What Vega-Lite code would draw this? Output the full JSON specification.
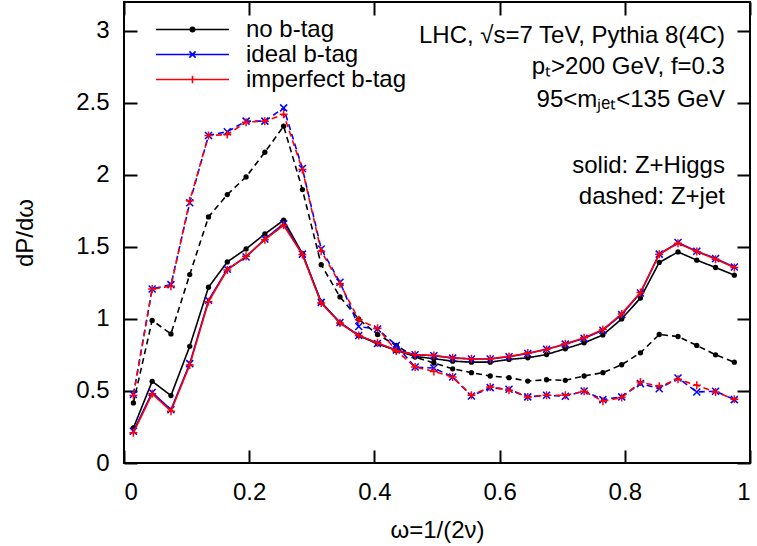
{
  "$schema": "https://vega.github.io/schema/vega-lite/v6.json",
  "width": 626,
  "height": 461,
  "autosize": {"type": "none"},
  "padding": {"left": 124, "top": 2, "right": 7, "bottom": 83},
  "background": "white",
  "config": {
    "view": {"stroke": "black", "strokeWidth": 2},
    "font": "Liberation Sans",
    "axis": {
      "domain": false, "grid": false, "tickSize": -13, "tickWidth": 2, "tickColor": "black",
      "labelFont": "Liberation Sans", "labelFontSize": 24, "labelColor": "black",
      "titleFont": "Liberation Sans", "titleFontSize": 24, "titleFontWeight": "normal", "titleColor": "black"
    },
    "legend": {"labelFont": "Liberation Sans", "labelFontSize": 24, "labelColor": "black", "labelLimit": 0}
  },
  "datasets": {
    "curves": [
      {"omega":0.015,"value":0.243,"tag":"no b-tag","process":"Z+Higgs"},
      {"omega":0.045,"value":0.567,"tag":"no b-tag","process":"Z+Higgs"},
      {"omega":0.075,"value":0.468,"tag":"no b-tag","process":"Z+Higgs"},
      {"omega":0.105,"value":0.81,"tag":"no b-tag","process":"Z+Higgs"},
      {"omega":0.135,"value":1.22,"tag":"no b-tag","process":"Z+Higgs"},
      {"omega":0.165,"value":1.396,"tag":"no b-tag","process":"Z+Higgs"},
      {"omega":0.195,"value":1.486,"tag":"no b-tag","process":"Z+Higgs"},
      {"omega":0.225,"value":1.59,"tag":"no b-tag","process":"Z+Higgs"},
      {"omega":0.255,"value":1.685,"tag":"no b-tag","process":"Z+Higgs"},
      {"omega":0.285,"value":1.454,"tag":"no b-tag","process":"Z+Higgs"},
      {"omega":0.315,"value":1.116,"tag":"no b-tag","process":"Z+Higgs"},
      {"omega":0.345,"value":0.972,"tag":"no b-tag","process":"Z+Higgs"},
      {"omega":0.375,"value":0.885,"tag":"no b-tag","process":"Z+Higgs"},
      {"omega":0.405,"value":0.827,"tag":"no b-tag","process":"Z+Higgs"},
      {"omega":0.435,"value":0.781,"tag":"no b-tag","process":"Z+Higgs"},
      {"omega":0.465,"value":0.74,"tag":"no b-tag","process":"Z+Higgs"},
      {"omega":0.495,"value":0.724,"tag":"no b-tag","process":"Z+Higgs"},
      {"omega":0.525,"value":0.707,"tag":"no b-tag","process":"Z+Higgs"},
      {"omega":0.555,"value":0.70,"tag":"no b-tag","process":"Z+Higgs"},
      {"omega":0.585,"value":0.70,"tag":"no b-tag","process":"Z+Higgs"},
      {"omega":0.615,"value":0.719,"tag":"no b-tag","process":"Z+Higgs"},
      {"omega":0.645,"value":0.73,"tag":"no b-tag","process":"Z+Higgs"},
      {"omega":0.675,"value":0.753,"tag":"no b-tag","process":"Z+Higgs"},
      {"omega":0.705,"value":0.793,"tag":"no b-tag","process":"Z+Higgs"},
      {"omega":0.735,"value":0.834,"tag":"no b-tag","process":"Z+Higgs"},
      {"omega":0.765,"value":0.889,"tag":"no b-tag","process":"Z+Higgs"},
      {"omega":0.795,"value":1.0,"tag":"no b-tag","process":"Z+Higgs"},
      {"omega":0.825,"value":1.145,"tag":"no b-tag","process":"Z+Higgs"},
      {"omega":0.855,"value":1.392,"tag":"no b-tag","process":"Z+Higgs"},
      {"omega":0.885,"value":1.465,"tag":"no b-tag","process":"Z+Higgs"},
      {"omega":0.915,"value":1.408,"tag":"no b-tag","process":"Z+Higgs"},
      {"omega":0.945,"value":1.357,"tag":"no b-tag","process":"Z+Higgs"},
      {"omega":0.975,"value":1.304,"tag":"no b-tag","process":"Z+Higgs"},

      {"omega":0.015,"value":0.417,"tag":"no b-tag","process":"Z+jet"},
      {"omega":0.045,"value":0.99,"tag":"no b-tag","process":"Z+jet"},
      {"omega":0.075,"value":0.896,"tag":"no b-tag","process":"Z+jet"},
      {"omega":0.105,"value":1.308,"tag":"no b-tag","process":"Z+jet"},
      {"omega":0.135,"value":1.708,"tag":"no b-tag","process":"Z+jet"},
      {"omega":0.165,"value":1.863,"tag":"no b-tag","process":"Z+jet"},
      {"omega":0.195,"value":1.986,"tag":"no b-tag","process":"Z+jet"},
      {"omega":0.225,"value":2.157,"tag":"no b-tag","process":"Z+jet"},
      {"omega":0.255,"value":2.338,"tag":"no b-tag","process":"Z+jet"},
      {"omega":0.285,"value":1.898,"tag":"no b-tag","process":"Z+jet"},
      {"omega":0.315,"value":1.377,"tag":"no b-tag","process":"Z+jet"},
      {"omega":0.345,"value":1.153,"tag":"no b-tag","process":"Z+jet"},
      {"omega":0.375,"value":0.998,"tag":"no b-tag","process":"Z+jet"},
      {"omega":0.405,"value":0.892,"tag":"no b-tag","process":"Z+jet"},
      {"omega":0.435,"value":0.816,"tag":"no b-tag","process":"Z+jet"},
      {"omega":0.465,"value":0.735,"tag":"no b-tag","process":"Z+jet"},
      {"omega":0.495,"value":0.694,"tag":"no b-tag","process":"Z+jet"},
      {"omega":0.525,"value":0.654,"tag":"no b-tag","process":"Z+jet"},
      {"omega":0.555,"value":0.627,"tag":"no b-tag","process":"Z+jet"},
      {"omega":0.585,"value":0.604,"tag":"no b-tag","process":"Z+jet"},
      {"omega":0.615,"value":0.592,"tag":"no b-tag","process":"Z+jet"},
      {"omega":0.645,"value":0.569,"tag":"no b-tag","process":"Z+jet"},
      {"omega":0.675,"value":0.578,"tag":"no b-tag","process":"Z+jet"},
      {"omega":0.705,"value":0.574,"tag":"no b-tag","process":"Z+jet"},
      {"omega":0.735,"value":0.604,"tag":"no b-tag","process":"Z+jet"},
      {"omega":0.765,"value":0.627,"tag":"no b-tag","process":"Z+jet"},
      {"omega":0.795,"value":0.682,"tag":"no b-tag","process":"Z+jet"},
      {"omega":0.825,"value":0.765,"tag":"no b-tag","process":"Z+jet"},
      {"omega":0.855,"value":0.892,"tag":"no b-tag","process":"Z+jet"},
      {"omega":0.885,"value":0.878,"tag":"no b-tag","process":"Z+jet"},
      {"omega":0.915,"value":0.816,"tag":"no b-tag","process":"Z+jet"},
      {"omega":0.945,"value":0.751,"tag":"no b-tag","process":"Z+jet"},
      {"omega":0.975,"value":0.70,"tag":"no b-tag","process":"Z+jet"},

      {"omega":0.015,"value":0.22,"tag":"ideal b-tag","process":"Z+Higgs"},
      {"omega":0.045,"value":0.49,"tag":"ideal b-tag","process":"Z+Higgs"},
      {"omega":0.075,"value":0.37,"tag":"ideal b-tag","process":"Z+Higgs"},
      {"omega":0.105,"value":0.69,"tag":"ideal b-tag","process":"Z+Higgs"},
      {"omega":0.135,"value":1.13,"tag":"ideal b-tag","process":"Z+Higgs"},
      {"omega":0.165,"value":1.345,"tag":"ideal b-tag","process":"Z+Higgs"},
      {"omega":0.195,"value":1.43,"tag":"ideal b-tag","process":"Z+Higgs"},
      {"omega":0.225,"value":1.555,"tag":"ideal b-tag","process":"Z+Higgs"},
      {"omega":0.255,"value":1.66,"tag":"ideal b-tag","process":"Z+Higgs"},
      {"omega":0.285,"value":1.45,"tag":"ideal b-tag","process":"Z+Higgs"},
      {"omega":0.315,"value":1.115,"tag":"ideal b-tag","process":"Z+Higgs"},
      {"omega":0.345,"value":0.975,"tag":"ideal b-tag","process":"Z+Higgs"},
      {"omega":0.375,"value":0.885,"tag":"ideal b-tag","process":"Z+Higgs"},
      {"omega":0.405,"value":0.83,"tag":"ideal b-tag","process":"Z+Higgs"},
      {"omega":0.435,"value":0.785,"tag":"ideal b-tag","process":"Z+Higgs"},
      {"omega":0.465,"value":0.752,"tag":"ideal b-tag","process":"Z+Higgs"},
      {"omega":0.495,"value":0.745,"tag":"ideal b-tag","process":"Z+Higgs"},
      {"omega":0.525,"value":0.728,"tag":"ideal b-tag","process":"Z+Higgs"},
      {"omega":0.555,"value":0.722,"tag":"ideal b-tag","process":"Z+Higgs"},
      {"omega":0.585,"value":0.722,"tag":"ideal b-tag","process":"Z+Higgs"},
      {"omega":0.615,"value":0.738,"tag":"ideal b-tag","process":"Z+Higgs"},
      {"omega":0.645,"value":0.76,"tag":"ideal b-tag","process":"Z+Higgs"},
      {"omega":0.675,"value":0.79,"tag":"ideal b-tag","process":"Z+Higgs"},
      {"omega":0.705,"value":0.825,"tag":"ideal b-tag","process":"Z+Higgs"},
      {"omega":0.735,"value":0.865,"tag":"ideal b-tag","process":"Z+Higgs"},
      {"omega":0.765,"value":0.922,"tag":"ideal b-tag","process":"Z+Higgs"},
      {"omega":0.795,"value":1.03,"tag":"ideal b-tag","process":"Z+Higgs"},
      {"omega":0.825,"value":1.18,"tag":"ideal b-tag","process":"Z+Higgs"},
      {"omega":0.855,"value":1.45,"tag":"ideal b-tag","process":"Z+Higgs"},
      {"omega":0.885,"value":1.53,"tag":"ideal b-tag","process":"Z+Higgs"},
      {"omega":0.915,"value":1.47,"tag":"ideal b-tag","process":"Z+Higgs"},
      {"omega":0.945,"value":1.42,"tag":"ideal b-tag","process":"Z+Higgs"},
      {"omega":0.975,"value":1.36,"tag":"ideal b-tag","process":"Z+Higgs"},

      {"omega":0.015,"value":0.475,"tag":"ideal b-tag","process":"Z+jet"},
      {"omega":0.045,"value":1.208,"tag":"ideal b-tag","process":"Z+jet"},
      {"omega":0.075,"value":1.238,"tag":"ideal b-tag","process":"Z+jet"},
      {"omega":0.105,"value":1.806,"tag":"ideal b-tag","process":"Z+jet"},
      {"omega":0.135,"value":2.273,"tag":"ideal b-tag","process":"Z+jet"},
      {"omega":0.165,"value":2.30,"tag":"ideal b-tag","process":"Z+jet"},
      {"omega":0.195,"value":2.373,"tag":"ideal b-tag","process":"Z+jet"},
      {"omega":0.225,"value":2.373,"tag":"ideal b-tag","process":"Z+jet"},
      {"omega":0.255,"value":2.465,"tag":"ideal b-tag","process":"Z+jet"},
      {"omega":0.285,"value":2.044,"tag":"ideal b-tag","process":"Z+jet"},
      {"omega":0.315,"value":1.486,"tag":"ideal b-tag","process":"Z+jet"},
      {"omega":0.345,"value":1.255,"tag":"ideal b-tag","process":"Z+jet"},
      {"omega":0.375,"value":0.947,"tag":"ideal b-tag","process":"Z+jet"},
      {"omega":0.405,"value":0.93,"tag":"ideal b-tag","process":"Z+jet"},
      {"omega":0.435,"value":0.816,"tag":"ideal b-tag","process":"Z+jet"},
      {"omega":0.465,"value":0.666,"tag":"ideal b-tag","process":"Z+jet"},
      {"omega":0.495,"value":0.659,"tag":"ideal b-tag","process":"Z+jet"},
      {"omega":0.525,"value":0.597,"tag":"ideal b-tag","process":"Z+jet"},
      {"omega":0.555,"value":0.465,"tag":"ideal b-tag","process":"Z+jet"},
      {"omega":0.585,"value":0.523,"tag":"ideal b-tag","process":"Z+jet"},
      {"omega":0.615,"value":0.512,"tag":"ideal b-tag","process":"Z+jet"},
      {"omega":0.645,"value":0.459,"tag":"ideal b-tag","process":"Z+jet"},
      {"omega":0.675,"value":0.47,"tag":"ideal b-tag","process":"Z+jet"},
      {"omega":0.705,"value":0.463,"tag":"ideal b-tag","process":"Z+jet"},
      {"omega":0.735,"value":0.50,"tag":"ideal b-tag","process":"Z+jet"},
      {"omega":0.765,"value":0.44,"tag":"ideal b-tag","process":"Z+jet"},
      {"omega":0.795,"value":0.459,"tag":"ideal b-tag","process":"Z+jet"},
      {"omega":0.825,"value":0.551,"tag":"ideal b-tag","process":"Z+jet"},
      {"omega":0.855,"value":0.516,"tag":"ideal b-tag","process":"Z+jet"},
      {"omega":0.885,"value":0.59,"tag":"ideal b-tag","process":"Z+jet"},
      {"omega":0.915,"value":0.493,"tag":"ideal b-tag","process":"Z+jet"},
      {"omega":0.945,"value":0.498,"tag":"ideal b-tag","process":"Z+jet"},
      {"omega":0.975,"value":0.44,"tag":"ideal b-tag","process":"Z+jet"},

      {"omega":0.015,"value":0.21,"tag":"imperfect b-tag","process":"Z+Higgs"},
      {"omega":0.045,"value":0.48,"tag":"imperfect b-tag","process":"Z+Higgs"},
      {"omega":0.075,"value":0.36,"tag":"imperfect b-tag","process":"Z+Higgs"},
      {"omega":0.105,"value":0.68,"tag":"imperfect b-tag","process":"Z+Higgs"},
      {"omega":0.135,"value":1.12,"tag":"imperfect b-tag","process":"Z+Higgs"},
      {"omega":0.165,"value":1.34,"tag":"imperfect b-tag","process":"Z+Higgs"},
      {"omega":0.195,"value":1.435,"tag":"imperfect b-tag","process":"Z+Higgs"},
      {"omega":0.225,"value":1.55,"tag":"imperfect b-tag","process":"Z+Higgs"},
      {"omega":0.255,"value":1.65,"tag":"imperfect b-tag","process":"Z+Higgs"},
      {"omega":0.285,"value":1.447,"tag":"imperfect b-tag","process":"Z+Higgs"},
      {"omega":0.315,"value":1.11,"tag":"imperfect b-tag","process":"Z+Higgs"},
      {"omega":0.345,"value":0.972,"tag":"imperfect b-tag","process":"Z+Higgs"},
      {"omega":0.375,"value":0.885,"tag":"imperfect b-tag","process":"Z+Higgs"},
      {"omega":0.405,"value":0.834,"tag":"imperfect b-tag","process":"Z+Higgs"},
      {"omega":0.435,"value":0.78,"tag":"imperfect b-tag","process":"Z+Higgs"},
      {"omega":0.465,"value":0.751,"tag":"imperfect b-tag","process":"Z+Higgs"},
      {"omega":0.495,"value":0.747,"tag":"imperfect b-tag","process":"Z+Higgs"},
      {"omega":0.525,"value":0.73,"tag":"imperfect b-tag","process":"Z+Higgs"},
      {"omega":0.555,"value":0.724,"tag":"imperfect b-tag","process":"Z+Higgs"},
      {"omega":0.585,"value":0.724,"tag":"imperfect b-tag","process":"Z+Higgs"},
      {"omega":0.615,"value":0.74,"tag":"imperfect b-tag","process":"Z+Higgs"},
      {"omega":0.645,"value":0.763,"tag":"imperfect b-tag","process":"Z+Higgs"},
      {"omega":0.675,"value":0.788,"tag":"imperfect b-tag","process":"Z+Higgs"},
      {"omega":0.705,"value":0.827,"tag":"imperfect b-tag","process":"Z+Higgs"},
      {"omega":0.735,"value":0.869,"tag":"imperfect b-tag","process":"Z+Higgs"},
      {"omega":0.765,"value":0.926,"tag":"imperfect b-tag","process":"Z+Higgs"},
      {"omega":0.795,"value":1.035,"tag":"imperfect b-tag","process":"Z+Higgs"},
      {"omega":0.825,"value":1.184,"tag":"imperfect b-tag","process":"Z+Higgs"},
      {"omega":0.855,"value":1.449,"tag":"imperfect b-tag","process":"Z+Higgs"},
      {"omega":0.885,"value":1.525,"tag":"imperfect b-tag","process":"Z+Higgs"},
      {"omega":0.915,"value":1.468,"tag":"imperfect b-tag","process":"Z+Higgs"},
      {"omega":0.945,"value":1.415,"tag":"imperfect b-tag","process":"Z+Higgs"},
      {"omega":0.975,"value":1.357,"tag":"imperfect b-tag","process":"Z+Higgs"},

      {"omega":0.015,"value":0.468,"tag":"imperfect b-tag","process":"Z+jet"},
      {"omega":0.045,"value":1.208,"tag":"imperfect b-tag","process":"Z+jet"},
      {"omega":0.075,"value":1.227,"tag":"imperfect b-tag","process":"Z+jet"},
      {"omega":0.105,"value":1.82,"tag":"imperfect b-tag","process":"Z+jet"},
      {"omega":0.135,"value":2.273,"tag":"imperfect b-tag","process":"Z+jet"},
      {"omega":0.165,"value":2.28,"tag":"imperfect b-tag","process":"Z+jet"},
      {"omega":0.195,"value":2.366,"tag":"imperfect b-tag","process":"Z+jet"},
      {"omega":0.225,"value":2.373,"tag":"imperfect b-tag","process":"Z+jet"},
      {"omega":0.255,"value":2.42,"tag":"imperfect b-tag","process":"Z+jet"},
      {"omega":0.285,"value":2.037,"tag":"imperfect b-tag","process":"Z+jet"},
      {"omega":0.315,"value":1.47,"tag":"imperfect b-tag","process":"Z+jet"},
      {"omega":0.345,"value":1.245,"tag":"imperfect b-tag","process":"Z+jet"},
      {"omega":0.375,"value":0.995,"tag":"imperfect b-tag","process":"Z+jet"},
      {"omega":0.405,"value":0.935,"tag":"imperfect b-tag","process":"Z+jet"},
      {"omega":0.435,"value":0.78,"tag":"imperfect b-tag","process":"Z+jet"},
      {"omega":0.465,"value":0.666,"tag":"imperfect b-tag","process":"Z+jet"},
      {"omega":0.495,"value":0.636,"tag":"imperfect b-tag","process":"Z+jet"},
      {"omega":0.525,"value":0.597,"tag":"imperfect b-tag","process":"Z+jet"},
      {"omega":0.555,"value":0.47,"tag":"imperfect b-tag","process":"Z+jet"},
      {"omega":0.585,"value":0.528,"tag":"imperfect b-tag","process":"Z+jet"},
      {"omega":0.615,"value":0.505,"tag":"imperfect b-tag","process":"Z+jet"},
      {"omega":0.645,"value":0.459,"tag":"imperfect b-tag","process":"Z+jet"},
      {"omega":0.675,"value":0.47,"tag":"imperfect b-tag","process":"Z+jet"},
      {"omega":0.705,"value":0.47,"tag":"imperfect b-tag","process":"Z+jet"},
      {"omega":0.735,"value":0.498,"tag":"imperfect b-tag","process":"Z+jet"},
      {"omega":0.765,"value":0.429,"tag":"imperfect b-tag","process":"Z+jet"},
      {"omega":0.795,"value":0.454,"tag":"imperfect b-tag","process":"Z+jet"},
      {"omega":0.825,"value":0.562,"tag":"imperfect b-tag","process":"Z+jet"},
      {"omega":0.855,"value":0.532,"tag":"imperfect b-tag","process":"Z+jet"},
      {"omega":0.885,"value":0.581,"tag":"imperfect b-tag","process":"Z+jet"},
      {"omega":0.915,"value":0.539,"tag":"imperfect b-tag","process":"Z+jet"},
      {"omega":0.945,"value":0.493,"tag":"imperfect b-tag","process":"Z+jet"},
      {"omega":0.975,"value":0.442,"tag":"imperfect b-tag","process":"Z+jet"}
    ]
  },
  "layer": [
    {
      "data": {"name": "curves"},
      "transform": [{"filter": "datum.tag === 'no b-tag'"}],
      "mark": {"type": "line", "strokeWidth": 1.6},
      "encoding": {
        "x": {"field": "omega", "type": "quantitative", "title": "ω=1/(2ν)",
              "scale": {"domain": [0, 1], "nice": false, "zero": false},
              "axis": {"orient": "bottom", "values": [0, 0.2, 0.4, 0.6, 0.8, 1], "format": "~g", "labelPadding": 30, "titlePadding": 14}},
        "y": {"field": "value", "type": "quantitative", "title": "dP/dω",
              "scale": {"domain": [0, 3.2], "nice": false, "zero": false},
              "axis": {"orient": "left", "values": [0, 0.5, 1, 1.5, 2, 2.5, 3], "format": "~g", "labelPadding": 28, "titlePadding": 38}},
        "color": {"field": "tag", "type": "nominal",
                  "scale": {"domain": ["no b-tag", "ideal b-tag", "imperfect b-tag"], "range": ["#000000", "#0000ff", "#ff0000"]}},
        "strokeDash": {"field": "process", "type": "nominal", "legend": null,
                       "scale": {"domain": ["Z+Higgs", "Z+jet"], "range": [[1, 0], [6, 4]]}}
      }
    },
    {
      "data": {"name": "curves"},
      "transform": [{"filter": "datum.tag === 'no b-tag'"}],
      "mark": {"type": "point", "shape": "circle", "filled": true, "size": 28, "opacity": 1},
      "encoding": {
        "x": {"field": "omega", "type": "quantitative", "axis": {"orient": "top", "labels": false, "title": null, "values": [0, 0.2, 0.4, 0.6, 0.8, 1]}},
        "y": {"field": "value", "type": "quantitative", "axis": {"orient": "right", "labels": false, "title": null, "values": [0, 0.5, 1, 1.5, 2, 2.5, 3]}},
        "color": {"field": "tag", "type": "nominal"}
      }
    },
    {
      "data": {"name": "curves"},
      "transform": [{"filter": "datum.tag === 'ideal b-tag'"}],
      "mark": {"type": "line", "strokeWidth": 1.6},
      "encoding": {
        "x": {"field": "omega", "type": "quantitative", "axis": null},
        "y": {"field": "value", "type": "quantitative", "axis": null},
        "color": {"field": "tag", "type": "nominal"},
        "strokeDash": {"field": "process", "type": "nominal", "legend": null}
      }
    },
    {
      "data": {"name": "curves"},
      "transform": [{"filter": "datum.tag === 'ideal b-tag'"}],
      "mark": {"type": "point", "shape": "M-1,-1L1,1M-1,1L1,-1", "filled": false, "size": 49, "strokeWidth": 1.5, "opacity": 1},
      "encoding": {
        "x": {"field": "omega", "type": "quantitative", "axis": null},
        "y": {"field": "value", "type": "quantitative", "axis": null},
        "color": {"field": "tag", "type": "nominal"}
      }
    },
    {
      "data": {"name": "curves"},
      "transform": [{"filter": "datum.tag === 'imperfect b-tag'"}],
      "mark": {"type": "line", "strokeWidth": 1.6},
      "encoding": {
        "x": {"field": "omega", "type": "quantitative", "axis": null},
        "y": {"field": "value", "type": "quantitative", "axis": null},
        "color": {"field": "tag", "type": "nominal"},
        "strokeDash": {"field": "process", "type": "nominal", "legend": null}
      }
    },
    {
      "data": {"name": "curves"},
      "transform": [{"filter": "datum.tag === 'imperfect b-tag'"}],
      "mark": {"type": "point", "shape": "M-1,0H1M0,-1V1", "filled": false, "size": 64, "strokeWidth": 1.5, "opacity": 1},
      "encoding": {
        "x": {"field": "omega", "type": "quantitative", "axis": null},
        "y": {"field": "value", "type": "quantitative", "axis": null},
        "color": {"field": "tag", "type": "nominal"}
      }
    },
    {
      "data": {"name": "curves"},
      "transform": [{"filter": "datum.process === 'Z+Higgs' && datum.omega < 0.02"}],
      "mark": {"type": "point", "filled": false, "opacity": 0, "size": 5329, "strokeWidth": 1.6},
      "encoding": {
        "x": {"field": "omega", "type": "quantitative", "axis": null},
        "y": {"field": "value", "type": "quantitative", "axis": null},
        "color": {"field": "tag", "type": "nominal",
                  "legend": {"title": null, "orient": "none", "legendX": 31, "legendY": 15, "symbolOpacity": 1, "symbolSize": 5329, "symbolStrokeWidth": 1.6, "labelOffset": 16, "rowPadding": 0, "clipHeight": 25, "labelFontSize": 24, "labelLimit": 0}},
        "shape": {"field": "tag", "type": "nominal",
                  "scale": {"domain": ["no b-tag", "ideal b-tag", "imperfect b-tag"],
                            "range": ["M-1,0H1M0.06,0A0.06,0.06 0 1,1 -0.06,0A0.06,0.06 0 1,1 0.06,0M0.03,0A0.03,0.03 0 1,1 -0.03,0A0.03,0.03 0 1,1 0.03,0",
                                      "M-1,0H1M-0.085,-0.085L0.085,0.085M-0.085,0.085L0.085,-0.085",
                                      "M-1,0H1M0,-0.1V0.1"]},
                  "legend": {"title": null, "orient": "none", "legendX": 31, "legendY": 15, "symbolOpacity": 1, "symbolSize": 5329, "symbolStrokeWidth": 1.6, "labelOffset": 16, "rowPadding": 0, "clipHeight": 25, "labelFontSize": 24, "labelLimit": 0}}
      }
    },
    {
      "data": {"values": [{"note": "LHC, √s=7 TeV, Pythia 8(4C)"}]},
      "mark": {"type": "text", "align": "right", "baseline": "alphabetic", "fontSize": 24, "font": "Liberation Sans", "color": "black"},
      "encoding": {"x": {"datum": 0.96, "axis": null}, "y": {"datum": 2.917, "axis": null}, "text": {"field": "note"}}
    },
    {
      "data": {"values": [{"note": "pₜ>200 GeV, f=0.3"}]},
      "mark": {"type": "text", "align": "right", "baseline": "alphabetic", "fontSize": 24, "font": "Liberation Sans", "color": "black"},
      "encoding": {"x": {"datum": 0.96, "axis": null}, "y": {"datum": 2.70, "axis": null}, "text": {"field": "note"}}
    },
    {
      "data": {"values": [{"note": "95<mⱼₑₜ<135 GeV"}]},
      "mark": {"type": "text", "align": "right", "baseline": "alphabetic", "fontSize": 24, "font": "Liberation Sans", "color": "black"},
      "encoding": {"x": {"datum": 0.96, "axis": null}, "y": {"datum": 2.47, "axis": null}, "text": {"field": "note"}}
    },
    {
      "data": {"values": [{"note": "solid: Z+Higgs"}]},
      "mark": {"type": "text", "align": "right", "baseline": "alphabetic", "fontSize": 24, "font": "Liberation Sans", "color": "black"},
      "encoding": {"x": {"datum": 0.96, "axis": null}, "y": {"datum": 2.01, "axis": null}, "text": {"field": "note"}}
    },
    {
      "data": {"values": [{"note": "dashed: Z+jet"}]},
      "mark": {"type": "text", "align": "right", "baseline": "alphabetic", "fontSize": 24, "font": "Liberation Sans", "color": "black"},
      "encoding": {"x": {"datum": 0.96, "axis": null}, "y": {"datum": 1.80, "axis": null}, "text": {"field": "note"}}
    }
  ],
  "resolve": {"axis": {"x": "independent", "y": "independent"}}
}
